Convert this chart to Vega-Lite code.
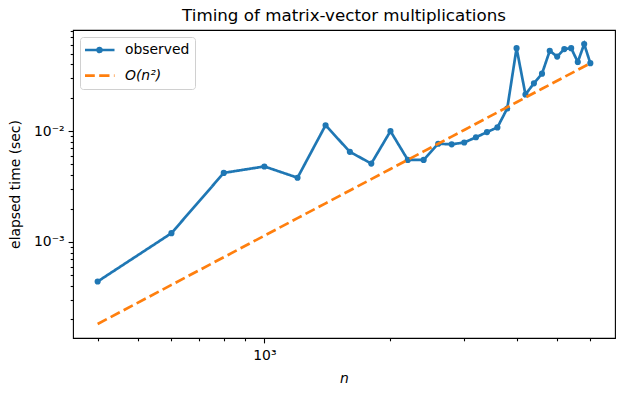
{
  "$schema": "https://vega.github.io/schema/vega-lite/v6.json",
  "autosize": {"type": "none"},
  "width": 542,
  "height": 308,
  "padding": {"left": 73, "top": 30, "right": 10, "bottom": 58},
  "background": "white",
  "config": {
    "view": {"stroke": "black", "strokeWidth": 1.1},
    "font": "DejaVu Sans",
    "axis": {"grid": false, "domain": false, "tickColor": "black", "tickWidth": 1.1, "labelColor": "black", "titleColor": "black", "labelFont": "DejaVu Sans", "titleFont": "DejaVu Sans", "labelFontSize": 13.9, "titleFontSize": 13.9, "titleFontWeight": "normal"}
  },
  "title": {"text": "Timing of matrix-vector multiplications", "fontSize": 16.7, "font": "DejaVu Sans", "fontWeight": "normal", "color": "black", "anchor": "middle", "offset": 5},
  "data": {"values": [
    {"n": 400, "t": 0.00044, "series": "observed"},
    {"n": 600, "t": 0.0012, "series": "observed"},
    {"n": 800, "t": 0.0042, "series": "observed"},
    {"n": 1000, "t": 0.0048, "series": "observed"},
    {"n": 1200, "t": 0.0038, "series": "observed"},
    {"n": 1400, "t": 0.0113, "series": "observed"},
    {"n": 1600, "t": 0.0065, "series": "observed"},
    {"n": 1800, "t": 0.0051, "series": "observed"},
    {"n": 2000, "t": 0.0100, "series": "observed"},
    {"n": 2200, "t": 0.0055, "series": "observed"},
    {"n": 2400, "t": 0.0055, "series": "observed"},
    {"n": 2600, "t": 0.0077, "series": "observed"},
    {"n": 2800, "t": 0.0076, "series": "observed"},
    {"n": 3000, "t": 0.0079, "series": "observed"},
    {"n": 3200, "t": 0.0088, "series": "observed"},
    {"n": 3400, "t": 0.0098, "series": "observed"},
    {"n": 3600, "t": 0.0108, "series": "observed"},
    {"n": 3800, "t": 0.0160, "series": "observed"},
    {"n": 4000, "t": 0.056, "series": "observed"},
    {"n": 4200, "t": 0.0214, "series": "observed"},
    {"n": 4400, "t": 0.027, "series": "observed"},
    {"n": 4600, "t": 0.033, "series": "observed"},
    {"n": 4800, "t": 0.053, "series": "observed"},
    {"n": 5000, "t": 0.047, "series": "observed"},
    {"n": 5200, "t": 0.055, "series": "observed"},
    {"n": 5400, "t": 0.056, "series": "observed"},
    {"n": 5600, "t": 0.042, "series": "observed"},
    {"n": 5800, "t": 0.061, "series": "observed"},
    {"n": 6000, "t": 0.041, "series": "observed"},
    {"n": 400, "t": 0.0001822, "series": "O(n²)"},
    {"n": 600, "t": 0.00041, "series": "O(n²)"},
    {"n": 800, "t": 0.0007289, "series": "O(n²)"},
    {"n": 1000, "t": 0.001139, "series": "O(n²)"},
    {"n": 1200, "t": 0.00164, "series": "O(n²)"},
    {"n": 1400, "t": 0.002232, "series": "O(n²)"},
    {"n": 1600, "t": 0.002916, "series": "O(n²)"},
    {"n": 1800, "t": 0.00369, "series": "O(n²)"},
    {"n": 2000, "t": 0.004556, "series": "O(n²)"},
    {"n": 2200, "t": 0.005513, "series": "O(n²)"},
    {"n": 2400, "t": 0.006561, "series": "O(n²)"},
    {"n": 2600, "t": 0.0077, "series": "O(n²)"},
    {"n": 2800, "t": 0.00893, "series": "O(n²)"},
    {"n": 3000, "t": 0.010251, "series": "O(n²)"},
    {"n": 3200, "t": 0.011663, "series": "O(n²)"},
    {"n": 3400, "t": 0.013167, "series": "O(n²)"},
    {"n": 3600, "t": 0.014761, "series": "O(n²)"},
    {"n": 3800, "t": 0.016447, "series": "O(n²)"},
    {"n": 4000, "t": 0.018224, "series": "O(n²)"},
    {"n": 4200, "t": 0.020092, "series": "O(n²)"},
    {"n": 4400, "t": 0.022051, "series": "O(n²)"},
    {"n": 4600, "t": 0.024101, "series": "O(n²)"},
    {"n": 4800, "t": 0.026243, "series": "O(n²)"},
    {"n": 5000, "t": 0.028475, "series": "O(n²)"},
    {"n": 5200, "t": 0.030799, "series": "O(n²)"},
    {"n": 5400, "t": 0.033213, "series": "O(n²)"},
    {"n": 5600, "t": 0.035719, "series": "O(n²)"},
    {"n": 5800, "t": 0.038316, "series": "O(n²)"},
    {"n": 6000, "t": 0.041, "series": "O(n²)"}
  ]},
  "layer": [
    {
      "transform": [{"filter": "datum.series === 'observed'"}],
      "mark": {"type": "point", "filled": true, "opacity": 1, "size": 38, "color": "#1f77b4"},
      "encoding": {
        "x": {"field": "n", "type": "quantitative", "scale": {"type": "log", "domain": [349.3, 6871], "nice": false, "zero": false},
          "axis": {"orient": "bottom", "values": [400, 500, 600, 700, 800, 900, 2000, 3000, 4000, 5000, 6000], "labels": false, "tickSize": 2.8, "title": null}},
        "y": {"field": "t", "type": "quantitative", "scale": {"type": "log", "domain": [0.0001361, 0.0817], "nice": false, "zero": false},
          "axis": {"orient": "left", "values": [0.0002, 0.0003, 0.0004, 0.0005, 0.0006, 0.0007, 0.0008, 0.0009, 0.002, 0.003, 0.004, 0.005, 0.006, 0.007, 0.008, 0.009, 0.02, 0.03, 0.04, 0.05, 0.06, 0.07, 0.08], "labels": false, "tickSize": 2.8, "title": null}}
      }
    },
    {
      "mark": {"type": "line", "strokeWidth": 2.7},
      "encoding": {
        "x": {"field": "n", "type": "quantitative", "scale": {"type": "log", "domain": [349.3, 6871], "nice": false, "zero": false},
          "axis": {"orient": "bottom", "values": [1000], "labelExpr": "'10³'", "tickSize": 4.9, "labelPadding": 6, "title": "n", "titleFontStyle": "italic", "titlePadding": 9}},
        "y": {"field": "t", "type": "quantitative", "scale": {"type": "log", "domain": [0.0001361, 0.0817], "nice": false, "zero": false},
          "axis": {"orient": "left", "values": [0.001, 0.01], "labelExpr": "datum.value < 0.005 ? '10⁻³' : '10⁻²'", "tickSize": 4.9, "labelPadding": 4, "title": "elapsed time (sec)", "titlePadding": 11}},
        "color": {"field": "series", "type": "nominal", "scale": {"domain": ["observed", "O(n²)"], "range": ["#1f77b4", "#ff7f0e"]},
          "legend": {"title": null, "orient": "top-left", "offset": 7, "fillColor": "rgba(255,255,255,0.8)", "strokeColor": "#d0d0d0", "cornerRadius": 3, "padding": 5, "symbolSize": 256, "symbolStrokeWidth": 2.7, "clipHeight": 16, "rowPadding": 9.7, "labelFontSize": 13.9, "labelFont": "DejaVu Sans", "labelColor": "black", "symbolOffset": 5, "labelOffset": 16,
            "encode": {
              "symbols": {"update": {
                "shape": {"signal": "datum.value === 'observed' ? 'M-1.875,0H1.875M0.25,0A0.25,0.25,0,1,1,-0.25,0A0.25,0.25,0,1,1,0.25,0Z' : 'M-1.875,0H1.875'"},
                "fill": {"signal": "datum.value === 'observed' ? '#1f77b4' : 'transparent'"}
              }},
              "labels": {"update": {"fontStyle": {"signal": "datum.value === 'observed' ? 'normal' : 'italic'"}}}
            }}},
        "strokeDash": {"field": "series", "type": "nominal", "scale": {"domain": ["observed", "O(n²)"], "range": [[1, 0], [10.3, 4.4]]}, "legend": {"title": null, "orient": "top-left"}}
      }
    }
  ],
  "resolve": {"axis": {"x": "independent", "y": "independent"}}
}
